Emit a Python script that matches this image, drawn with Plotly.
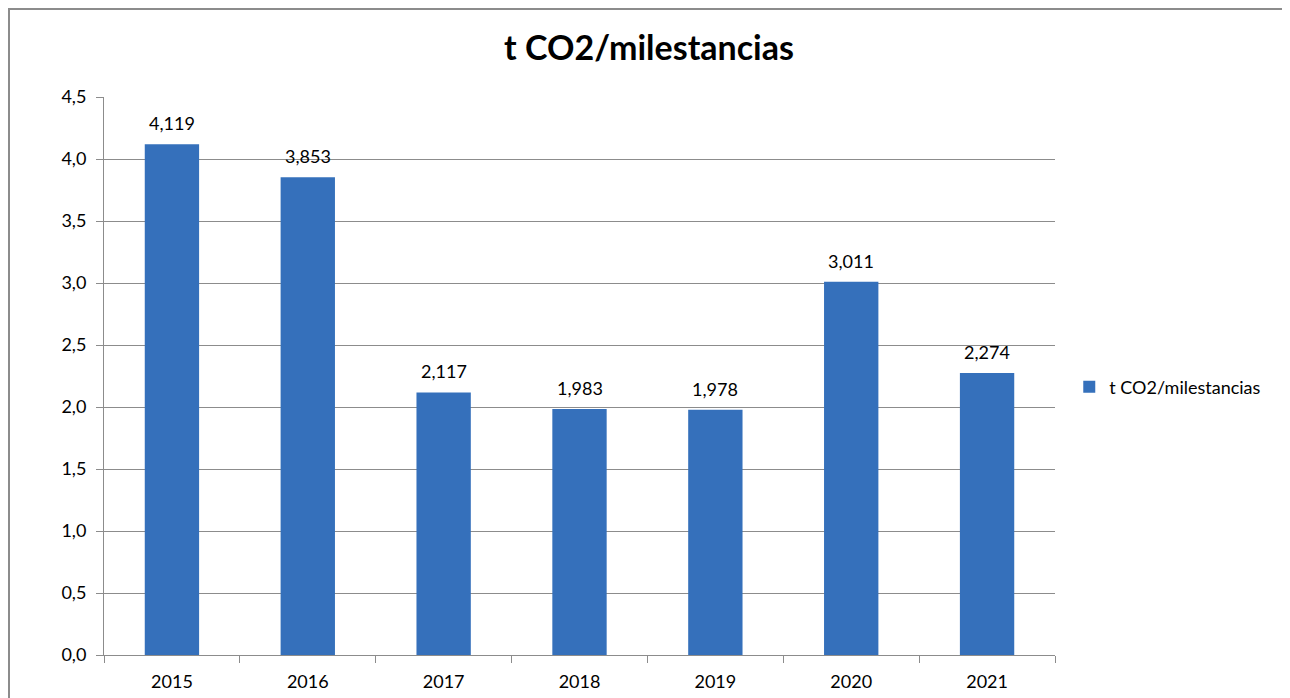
import plotly.graph_objects as go

years = ["2015", "2016", "2017", "2018", "2019", "2020", "2021"]
values = [4.119, 3.853, 2.117, 1.983, 1.978, 3.011, 2.274]
series_name = "t CO2/milestancias"
y_ticks = [0, 0.5, 1.0, 1.5, 2.0, 2.5, 3.0, 3.5, 4.0, 4.5]

FONT = "Lato, 'Open Sans', sans-serif"

W, H = 1282, 690
L, R, T, B = 96, 235, 89, 43
PW = W - L - R
PH = H - T - B

fig = go.Figure()
fig.add_trace(go.Bar(
    x=years, y=values, name=series_name,
    marker=dict(color="#3570BB", line=dict(width=0)),
    showlegend=True,
))

for i, v in enumerate(values):
    fig.add_annotation(
        x=i, y=v, text=f"{v:.3f}".replace(".", ","), showarrow=False,
        yanchor="bottom", yshift=8,
        font=dict(size=18, color="#000000", family=FONT),
    )

fig.update_layout(
    width=W, height=H,
    margin=dict(l=L, r=R, t=T, b=B),
    paper_bgcolor="white", plot_bgcolor="white",
    separators=",.",
    bargap=0.6,
    font=dict(family=FONT, size=18, color="#000000"),
    title=dict(text="<b>t CO2/milestancias</b>", x=0.5, xanchor="center",
               y=1 - 40 / H, yanchor="middle", font=dict(size=34, family=FONT)),
    legend=dict(x=1.015, y=0.48, xanchor="left", yanchor="middle",
                font=dict(size=18, family=FONT), itemwidth=30),
    xaxis=dict(type="category", categoryorder="array", categoryarray=years,
               range=[-0.5, len(years) - 0.5], automargin=False,
               showline=True, linecolor="#8c8c8c", linewidth=1,
               ticks="outside", tickson="boundaries", ticklen=7, tickcolor="#8c8c8c",
               tickfont=dict(size=18), showgrid=False, ticklabelstandoff=10),
    yaxis=dict(range=[0, 4.5], tickvals=y_ticks, tickformat=".1f", automargin=False,
               showline=True, linecolor="#8c8c8c", linewidth=1,
               ticks="outside", ticklen=7, tickcolor="#8c8c8c",
               showgrid=True, gridcolor="#8c8c8c", gridwidth=1,
               zeroline=False, tickfont=dict(size=18), ticklabelstandoff=6),
    shapes=[dict(type="rect", xref="paper", yref="paper",
                 x0=(1 - L) / PW, x1=(W - 3 - L) / PW,
                 y0=-0.3, y1=(PH + T - 1) / PH,
                 line=dict(color="#8c8c8c", width=2), fillcolor="rgba(0,0,0,0)",
                 layer="below")],
)

fig.write_html("out.html")
